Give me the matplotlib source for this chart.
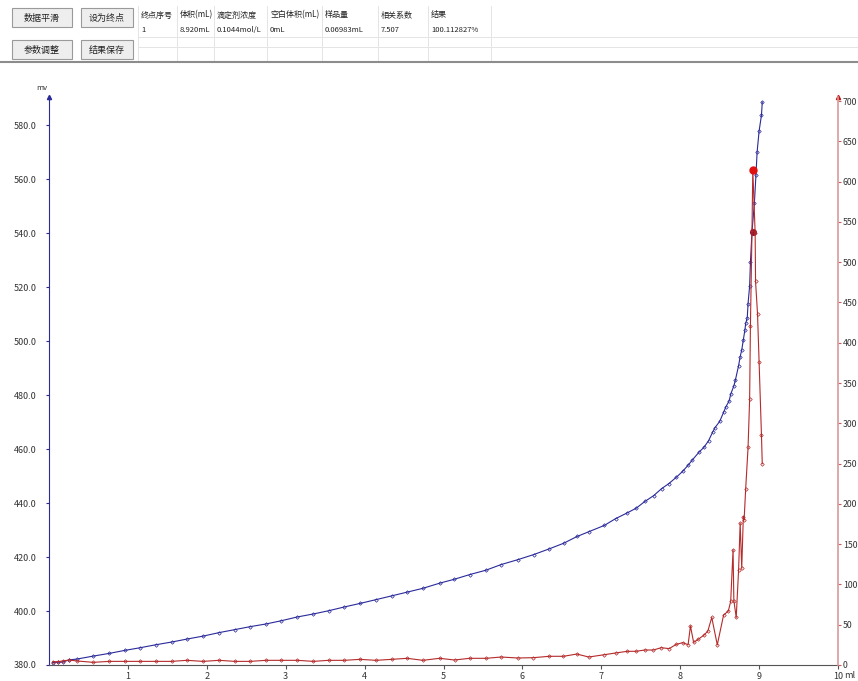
import numpy as np
import matplotlib.pyplot as plt
from matplotlib.patches import Rectangle

plt.rcParams['font.family'] = ['Noto Sans CJK SC', 'DejaVu Sans']

# potential curve (mv, left axis)
vol_mv = [0.047, 0.11, 0.173, 0.257, 0.354, 0.561, 0.764, 0.958, 1.156, 1.354,
          1.553, 1.747, 1.953, 2.156, 2.354, 2.549, 2.751, 2.945, 3.148, 3.35,
          3.544, 3.743, 3.941, 4.143, 4.342, 4.54, 4.738, 4.95, 5.13, 5.333,
          5.536, 5.73, 5.94, 6.143, 6.338, 6.523, 6.692, 6.844, 7.038, 7.18,
          7.325, 7.443, 7.553, 7.662, 7.763, 7.856, 7.949, 8.03, 8.10, 8.15,
          8.24, 8.30, 8.36, 8.41, 8.44, 8.50, 8.55, 8.58, 8.62, 8.64,
          8.68, 8.70, 8.74, 8.76, 8.78, 8.80, 8.82, 8.83, 8.85, 8.86,
          8.88, 8.89, 8.91, 8.94, 8.96, 8.975, 9.00, 9.03, 9.04]
mv = [380.9, 381.0, 381.1, 381.9, 382.2, 383.3, 384.3, 385.4, 386.4, 387.5,
      388.5, 389.6, 390.7, 392.0, 393.1, 394.2, 395.2, 396.4, 397.8, 398.9,
      400.1, 401.5, 402.8, 404.2, 405.6, 407.0, 408.4, 410.3, 411.7, 413.5,
      415.1, 417.2, 419.0, 420.9, 423.0, 425.1, 427.6, 429.4, 431.7, 434.2,
      436.3, 438.1, 440.6, 442.7, 445.3, 447.2, 449.5, 451.7, 454.0, 455.8,
      458.9, 460.6, 463.1, 466.2, 467.9, 470.2, 473.6, 475.7, 477.8, 480.3,
      483.4, 485.6, 490.9, 494.2, 496.7, 500.4, 504.1, 506.5, 508.7, 513.9,
      520.4, 529.1, 540.5, 551.0, 561.5, 570.1, 577.8, 583.7, 588.5]

# first derivative (right axis)
vol_d = [0.047, 0.11, 0.173, 0.257, 0.354, 0.561, 0.764, 0.958, 1.156, 1.354,
         1.553, 1.747, 1.953, 2.156, 2.354, 2.549, 2.751, 2.945, 3.148, 3.35,
         3.544, 3.743, 3.941, 4.143, 4.342, 4.54, 4.738, 4.95, 5.14, 5.33,
         5.54, 5.73, 5.94, 6.14, 6.34, 6.52, 6.69, 6.84, 7.04, 7.18,
         7.33, 7.44, 7.55, 7.66, 7.76, 7.86, 7.95, 8.03, 8.10, 8.13,
         8.17, 8.23, 8.30, 8.35, 8.40, 8.47, 8.55, 8.61, 8.64, 8.67,
         8.68, 8.71, 8.74, 8.76, 8.78, 8.80, 8.81, 8.83, 8.86, 8.88,
         8.89, 8.91, 8.92, 8.95, 8.955, 8.98, 9.00, 9.03, 9.04]
dmv = [4.1, 4.1, 5.0, 6.2, 5.0, 3.3, 4.5, 4.5, 4.5, 4.5,
       4.5, 5.8, 4.5, 5.8, 4.5, 4.5, 5.8, 5.8, 5.8, 4.5,
       5.8, 5.8, 7.0, 5.8, 7.0, 8.3, 5.8, 8.3, 6.2, 8.3,
       8.3, 9.9, 8.7, 9.1, 10.8, 10.8, 13.6, 9.9, 12.8, 14.9,
       17.0, 17.0, 18.6, 18.6, 21.5, 20.3, 25.6, 27.7, 25.2, 48.4,
       28.1, 32.0, 37.0, 42.0, 59.0, 25.0, 62.0, 67.0, 79.0, 143.0,
       80.0, 59.0, 118.0, 176.0, 120.0, 184.0, 180.0, 219.0, 270.0, 330.0,
       421.0, 540.0, 615.0, 536.0, 476.0, 436.0, 376.0, 285.0, 250.0]

end_vol = 8.92
end_mv = 540.5
peak_d = 615

headers = ["终点序号", "体积(mL)", "滴定剂浓度", "空白体积(mL)", "样品量", "相关系数", "结果"]
row1 = ["1", "8.920mL", "0.1044mol/L", "0mL", "0.06983mL", "7.507", "100.112827%"]
buttons = ["数据平滑", "设为终点", "参数调整", "结果保存"]

W, H = 858, 681
fig = plt.figure(figsize=(W / 100, H / 100), dpi=100)


def fx(px):
    return px / W


def fy(py):
    return 1 - py / H


# ---- header panel ----
btn_pos = [(12, 8, 60), (81, 8, 52), (12, 40, 60), (81, 40, 52)]
for (bx, by, bw), name in zip(btn_pos, buttons):
    fig.patches.append(Rectangle((fx(bx), fy(by + 19)), bw / W, 19 / H,
                                 transform=fig.transFigure, facecolor='#eeeeee',
                                 edgecolor='#9a9a9a', linewidth=0.8))
    fig.text(fx(bx + bw / 2), fy(by + 10), name, fontsize=6.5, ha='center', va='center', color='#222222')

col_x = [138, 177, 214, 267, 322, 378, 428, 491]
for cx in col_x:
    fig.add_artist(plt.Line2D([fx(cx), fx(cx)], [fy(6), fy(60)], transform=fig.transFigure,
                              color='#e4e4e4', linewidth=0.7))
for ly in [37, 47]:
    fig.add_artist(plt.Line2D([fx(138), fx(858)], [fy(ly), fy(ly)], transform=fig.transFigure,
                              color='#e4e4e4', linewidth=0.7))
fig.add_artist(plt.Line2D([0, 1], [fy(62), fy(62)], transform=fig.transFigure,
                          color='#8c8c8c', linewidth=1.5))
for i in range(len(headers)):
    fig.text(fx(col_x[i] + 3), fy(15), headers[i], fontsize=5.8, ha='left', va='center', color='#222222')
    fig.text(fx(col_x[i] + 3), fy(30), row1[i], fontsize=5.5, ha='left', va='center', color='#222222')

# ---- chart ----
ax = fig.add_axes([fx(49), 16 / H, (838 - 49) / W, (665 - 97) / H])
ax2 = ax.twinx()

blue = '#2a2a9a'
red = '#b52a2a'

ax.plot(vol_mv, mv, color=blue, linewidth=0.8, marker='D', markersize=1.8,
        markerfacecolor='none', markeredgewidth=0.5)
ax2.plot(vol_d, dmv, color=red, linewidth=0.8, marker='D', markersize=1.8,
         markerfacecolor='none', markeredgewidth=0.5)
ax2.plot([end_vol], [peak_d], 'o', color='#e01010', markersize=5)
ax.plot([end_vol], [end_mv], 'o', color='#8a1030', markersize=4)

ax.set_xlim(0, 10)
ax.set_ylim(380, 590.4)
ax2.set_ylim(0, 705)
ax.set_xticks(range(1, 11))
ax.set_yticks(np.arange(380, 581, 20))
ax.set_yticklabels([f"{v:.1f}" for v in np.arange(380, 581, 20)])
ax2.set_yticks(range(0, 701, 50))

ax.spines['top'].set_visible(False)
ax2.spines['top'].set_visible(False)
ax.spines['right'].set_visible(False)
ax2.spines['left'].set_visible(False)
ax2.spines['bottom'].set_visible(False)
ax.spines['left'].set_color(blue)
ax2.spines['right'].set_color('#d89a9a')
ax2.spines['right'].set_linewidth(1.2)
ax.spines['bottom'].set_color('#555555')

ax.tick_params(axis='y', length=2, colors=blue, labelcolor='#333333', labelsize=6.5, pad=7)
ax2.tick_params(axis='y', length=2, colors='#c06060', labelcolor='#333333', labelsize=6.3, pad=1.5)
ax.tick_params(axis='x', length=3, colors='#555555', labelcolor='#333333', labelsize=6.5, pad=2)

ax.plot([0], [1], '^', color=blue, markersize=3, transform=ax.transAxes, clip_on=False)
ax2.plot([1], [1], '^', color='#c01010', markersize=3, transform=ax2.transAxes, clip_on=False)
fig.text(fx(42), fy(88), "mv", fontsize=5.5, ha='center', va='center', color='#333333')
fig.text(fx(850), fy(675), "ml", fontsize=6.5, ha='center', va='center', color='#333333')

fig.savefig('out.png', dpi=100)
